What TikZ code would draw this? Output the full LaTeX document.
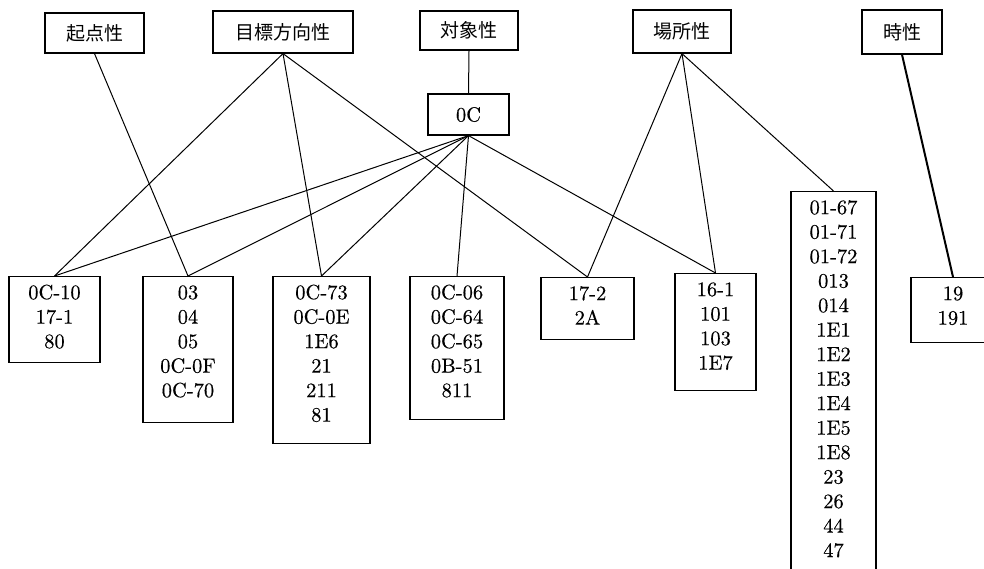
\documentclass[tikz,border=0pt]{standalone}
\usepackage{fontspec}
\newfontfamily\jp{Noto Sans CJK JP}
\newfontfamily\numfont{lmroman10-regular.otf}[FakeBold=0.4]
\newcommand{\fl}{\rule{0pt}{14.5pt}}
\newcommand{\bd}[1]{\rule[-#1pt]{0pt}{#1pt}}
\begin{document}
\begin{tikzpicture}[x=1pt,y=-1pt,
  cat/.style={draw, line width=1.2pt, inner sep=0pt, font=\jp\fontsize{19}{22}\selectfont},
  val/.style={draw, line width=1.2pt, anchor=north, align=center, inner xsep=0pt, inner ysep=8pt,
              font=\numfont\fontsize{20.5}{24.5}\selectfont},
  link/.style={line width=1pt},
  thick link/.style={line width=2pt}]
\useasboundingbox (0,0) rectangle (984,568);

% category boxes
\node[cat, minimum width=99pt, minimum height=40pt] (kiten) at (94.5,33) {起点性};
\node[cat, minimum width=140pt, minimum height=42pt] (mokuhyo) at (283,32) {目標方向性};
\node[cat, minimum width=98pt, minimum height=39pt] (taisho) at (469,30.5) {対象性};
\node[cat, minimum width=81pt, minimum height=41pt, font=\numfont\fontsize{20.5}{24.5}\selectfont] (oc) at (468.5,114.5) {0C};
\node[cat, minimum width=98pt, minimum height=43pt] (basho) at (682,31.5) {場所性};
\node[cat, minimum width=80pt, minimum height=44pt] (ji) at (902,32) {時性};

% value boxes
\node[val, minimum width=91pt] (b1) at (54.5,276) {\fl 0C-10\\17-1\\80\bd{6.5}};
\node[val, minimum width=90pt] (b2) at (188,276) {\fl 03\\04\\05\\0C-0F\\0C-70\bd{17.5}};
\node[val, minimum width=97pt] (b3) at (321.5,276) {\fl 0C-73\\0C-0E\\1E6\\21\\211\\81\bd{14}};
\node[val, minimum width=94pt] (b4) at (457,276) {\fl 0C-06\\0C-64\\0C-65\\0B-51\\811\bd{14.5}};
\node[val, minimum width=93pt] (b5) at (587.5,277) {\fl 17-2\\2A\bd{7}};
\node[val, minimum width=81pt] (b6) at (715.5,273) {\fl 16-1\\101\\103\\1E7\bd{13}};
\node[val, minimum width=85pt] (b7) at (833.5,191) {\fl 01-67\\01-71\\01-72\\013\\014\\1E1\\1E2\\1E3\\1E4\\1E5\\1E8\\23\\26\\44\\47\bd{25}};
\node[val, minimum width=84pt] (b8) at (953,277) {\fl 19\\191\bd{10}};

% connectors
\draw[link] (kiten.south) -- (b2.north);
\draw[link] (mokuhyo.south) -- (b1.north);
\draw[link] (mokuhyo.south) -- (b3.north);
\draw[link] (mokuhyo.south) -- (b5.north);
\draw[link] (taisho.south) -- (oc.north);
\draw[link] (oc.south) -- (b1.north);
\draw[link] (oc.south) -- (b2.north);
\draw[link] (oc.south) -- (b3.north);
\draw[link] (oc.south) -- (b4.north);
\draw[link] (oc.south) -- (b6.north);
\draw[link] (basho.south) -- (b5.north);
\draw[link] (basho.south) -- (b6.north);
\draw[link] (basho.south) -- (b7.north);
\draw[thick link] (ji.south) -- (b8.north);
\end{tikzpicture}
\end{document}
